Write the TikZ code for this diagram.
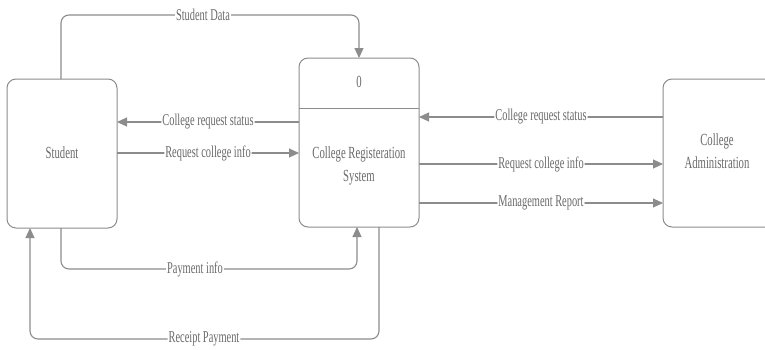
\documentclass[tikz,border=0pt]{standalone}
\usepackage{fontspec}
\setmainfont{Liberation Serif}
\newfontfamily\cond[FakeStretch=0.63]{Liberation Serif}
\usetikzlibrary{arrows.meta}
\definecolor{ln}{HTML}{8C8C8C}
\definecolor{tx}{HTML}{6A6A6A}
\tikzset{
  x=1pt,y=-1pt,
  box/.style={draw=ln,line width=1pt,rounded corners=9pt,fill=white},
  flow/.style={draw=ln,line width=1.1pt,rounded corners=8pt,-{Triangle[length=10pt,width=9pt]}},
  lbl/.style={fill=white,inner sep=1pt,text=tx,font=\cond\fontsize{16.5}{18}\selectfont},
  txt/.style={text=tx,font=\cond\fontsize{17}{22.5}\selectfont,align=center},
}
\begin{document}
\begin{tikzpicture}
\useasboundingbox (0,0) rectangle (765,349);
% boxes
\draw[box] (7,79) rectangle (117,228);
\node[txt] (student) at (62,153) {Student};
\draw[box] (299,58) rectangle (419,227);
\draw[ln,line width=1pt] (299,108) -- (419,108);
\node[txt] (zero) at (359,82) {0};
\node[txt] (crs) at (359,166) {College Registeration\\System};
\draw[box] (663,79) rectangle (790,227);
\node[txt] (ca) at (717,151) {College\\Administration};
% coordinates
\coordinate (sTop) at (61,79);
\coordinate (cTop) at (359,58);
\coordinate (sR1) at (117,122);
\coordinate (cL1) at (299,122);
\coordinate (sR2) at (117,153);
\coordinate (cL2) at (299,153);
\coordinate (cR1) at (419,117);
\coordinate (aL1) at (663,117);
\coordinate (cR2) at (419,164);
\coordinate (aL2) at (663,164);
\coordinate (cR3) at (419,203);
\coordinate (aL3) at (663,203);
\coordinate (sB1) at (61,228);
\coordinate (cB1) at (357,227);
\coordinate (cB2) at (379,227);
\coordinate (sB2) at (30,228);
% flows
\draw[flow] (sTop) |- (203,15) node[lbl] {Student Data} -| (cTop);
\draw[flow] (cL1) -- node[lbl,pos=0.5] {College request status} (sR1);
\draw[flow] (sR2) -- node[lbl,pos=0.5] {Request college info} (cL2);
\draw[flow] (aL1) -- node[lbl,pos=0.5] {College request status} (cR1);
\draw[flow] (cR2) -- node[lbl,pos=0.5] {Request college info} (aL2);
\draw[flow] (cR3) -- node[lbl,pos=0.5] {Management Report} (aL3);
\draw[flow] (sB1) |- (195,269) node[lbl] {Payment info} -| (cB1);
\draw[flow] (cB2) |- (204,339) node[lbl] {Receipt Payment} -| (sB2);
\end{tikzpicture}
\end{document}
